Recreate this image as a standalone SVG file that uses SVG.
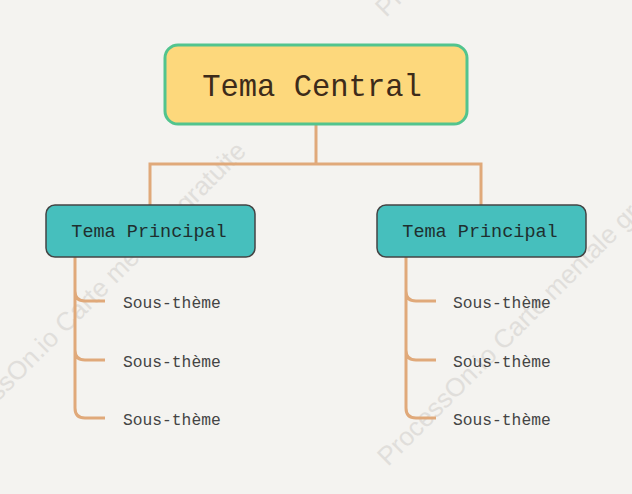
<svg xmlns="http://www.w3.org/2000/svg" width="632" height="494" viewBox="0 0 632 494">
<style>
.wm{font-family:"Liberation Sans",Arial,sans-serif;font-size:26px;fill:#dcdad6;opacity:0.8}
.conn{fill:none;stroke:#e0a97a;stroke-width:3;stroke-linecap:butt}
.central rect{fill:#fdd87c;stroke:#52c48e;stroke-width:3}
.central text{font-family:"Liberation Mono","DejaVu Sans Mono",monospace;font-size:30.5px;fill:#3d2b1a}
.main rect{fill:#46bfbd;stroke:#444;stroke-width:1.5}
.main text{font-family:"Liberation Mono","DejaVu Sans Mono",monospace;font-size:18.5px;fill:#1f2f2f}
.sub text{font-family:"Liberation Mono","DejaVu Sans Mono",monospace;font-size:16.3px;fill:#444}
</style>
<rect width="632" height="494" fill="#f4f3f0"/>
<g id="watermarks">
<text class="wm" transform="translate(-50,450) rotate(-45)">ProcessOn.io Carte mentale gratuite</text>
<text class="wm" transform="translate(388,467) rotate(-45)">ProcessOn.io Carte mentale gratuite</text>
<text class="wm" transform="translate(386,18) rotate(-45)">ProcessOn.io Carte mentale gratuite</text>
</g>
<g id="connectors">
<path class="conn" d="M316,124 V164 M150,205 V164 H481 V205"/>
<path class="conn" d="M75,257 V291 Q75,301 85,301 H105 M75,291 V350 Q75,360 85,360 H105 M75,350 V408 Q75,418 85,418 H105"/>
<path class="conn" d="M406,257 V291 Q406,301 416,301 H436 M406,291 V350 Q406,360 416,360 H436 M406,350 V408 Q406,418 416,418 H436"/>
</g>
<g id="central" class="central">
<rect x="165" y="45" width="302" height="79" rx="13"/>
<text x="312" y="96" text-anchor="middle">Tema Central</text>
</g>
<g id="main-left" class="main">
<rect x="46" y="205" width="209" height="52" rx="9"/>
<text x="149" y="237" text-anchor="middle">Tema Principal</text>
</g>
<g id="main-right" class="main">
<rect x="377" y="205" width="209" height="52" rx="9"/>
<text x="480" y="237" text-anchor="middle">Tema Principal</text>
</g>
<g id="sub-l1" class="sub"><text x="123" y="308">Sous-thème</text></g>
<g id="sub-l2" class="sub"><text x="123" y="367">Sous-thème</text></g>
<g id="sub-l3" class="sub"><text x="123" y="425">Sous-thème</text></g>
<g id="sub-r1" class="sub"><text x="453" y="308">Sous-thème</text></g>
<g id="sub-r2" class="sub"><text x="453" y="367">Sous-thème</text></g>
<g id="sub-r3" class="sub"><text x="453" y="425">Sous-thème</text></g>
</svg>
